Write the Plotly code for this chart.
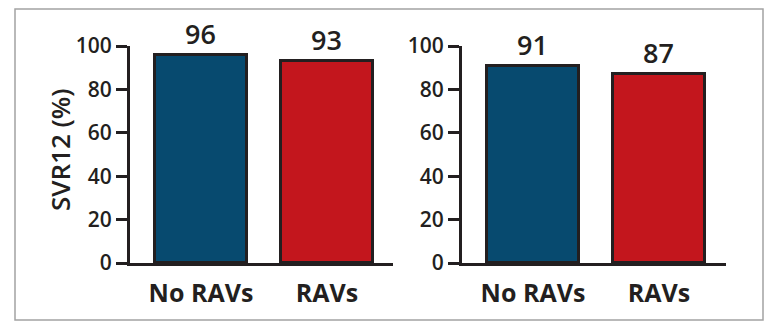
import plotly.graph_objects as go

categories = ["No RAVs", "RAVs"]
left_values = [96, 93]
right_values = [91, 87]
bar_colors = ["#074a6f", "#c3161d"]
y_ticks = [0, 20, 40, 60, 80, 100]
y_title = "SVR12 (%)"

W, H = 772, 328
INK = "#231f20"
FONT = "Open Sans"

fig = go.Figure()
for vals, xa, ya in [(left_values, "x", "y"), (right_values, "x2", "y2")]:
    fig.add_trace(go.Bar(
        x=list(range(len(categories))), y=vals,
        marker=dict(color=bar_colors, line=dict(color=INK, width=3)),
        width=0.73,
        text=[str(v) for v in vals], textposition="outside",
        textfont=dict(family=FONT, size=27, color=INK, weight=600),
        cliponaxis=False, xaxis=xa, yaxis=ya, showlegend=False,
        hoverinfo="skip",
    ))

def px_x(p):
    return p / W

def px_y(p):
    return (H - p) / H

xcommon = dict(
    showline=True, linewidth=3, linecolor=INK, showgrid=False, zeroline=False,
    ticks="", tickmode="array", tickvals=list(range(len(categories))),
    ticktext=categories, tickfont=dict(family=FONT, size=25, color=INK, weight=700),
    fixedrange=True, ticklabelstandoff=6, automargin=False,
)
ycommon = dict(
    range=[0, 100], showline=True, linewidth=3, linecolor=INK, showgrid=False,
    zeroline=False, ticks="outside", ticklen=11, tickwidth=3, tickcolor=INK,
    tickmode="array", tickvals=y_ticks,
    tickfont=dict(family=FONT, size=21, color=INK, weight=600),
    domain=[px_y(263), px_y(46)], fixedrange=True, automargin=False,
)

fig.update_layout(
    template="none",
    width=W, height=H, autosize=False,
    margin=dict(l=0, r=0, t=0, b=0, pad=0),
    paper_bgcolor="white", plot_bgcolor="white",
    bargap=0,
    xaxis=dict(domain=[px_x(130), px_x(393)], range=[-0.563, 1.524], anchor="y", **xcommon),
    yaxis=dict(anchor="x", **ycommon),
    xaxis2=dict(domain=[px_x(462), px_x(726)], range=[-0.563, 1.532], anchor="y2", **xcommon),
    yaxis2=dict(anchor="x2", **ycommon),
    annotations=[dict(
        text=y_title, textangle=-90, xref="paper", yref="paper",
        x=px_x(60), y=px_y(150), xanchor="center", yanchor="middle",
        showarrow=False, font=dict(family=FONT, size=26, color=INK, weight=600),
    )],
    shapes=[dict(
        type="rect", xref="paper", yref="paper",
        x0=px_x(15), x1=px_x(763), y0=px_y(320), y1=px_y(9),
        line=dict(color="#a3a3a3", width=1.5), fillcolor="rgba(0,0,0,0)", layer="below",
    )],
)

fig.write_html(
    "out.html",
    config={"displayModeBar": False},
    post_script="document.body.style.margin='0';document.body.style.overflow='hidden';",
)
